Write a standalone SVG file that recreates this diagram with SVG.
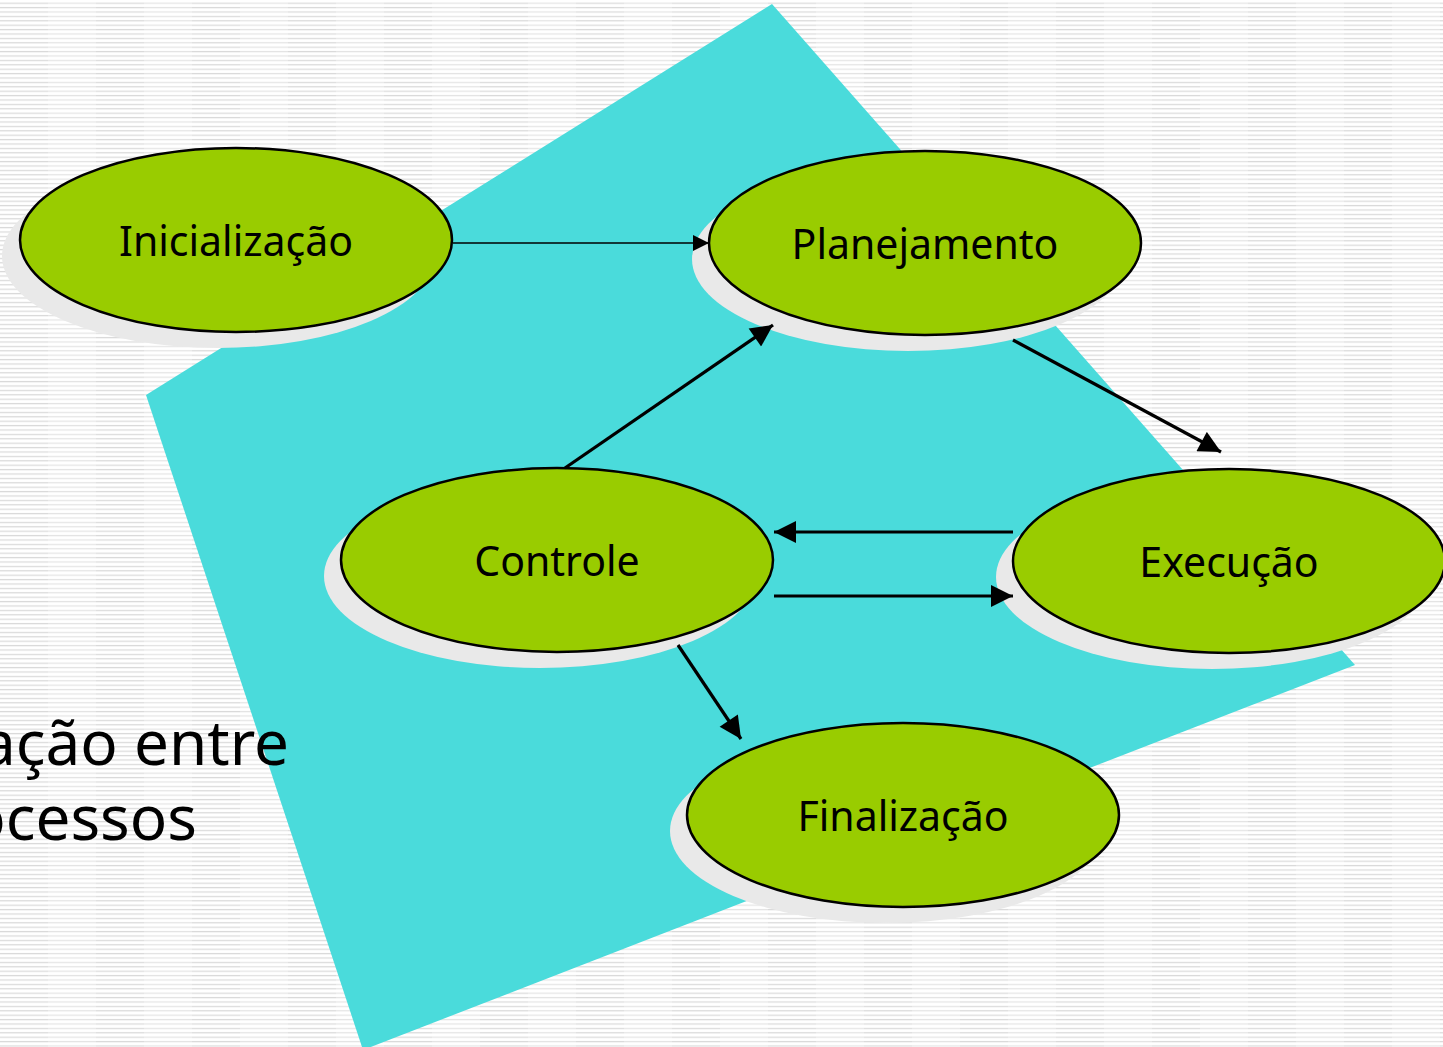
<svg xmlns="http://www.w3.org/2000/svg" width="1443" height="1047" viewBox="0 0 1443 1047">
<defs>
<pattern id="stripes" x="0" y="0" width="96" height="4.4" patternUnits="userSpaceOnUse">
<rect x="0" y="0" width="96" height="4.4" fill="#ffffff"/>
<rect x="0" y="2.6" width="48" height="1.2" fill="#d9d9d9"/>
<rect x="48" y="2.6" width="48" height="1.2" fill="#e4e4e4"/>
</pattern>
<marker id="ah" viewBox="0 0 10 10" refX="10" refY="5" markerWidth="24" markerHeight="22" markerUnits="userSpaceOnUse" orient="auto">
<path d="M0,0 L10,5 L0,10 z" fill="#000"/>
</marker>
<marker id="ahs" viewBox="0 0 10 10" refX="10" refY="5" markerWidth="18" markerHeight="16" markerUnits="userSpaceOnUse" orient="auto">
<path d="M0,0 L10,5 L0,10 z" fill="#000"/>
</marker>
</defs>
<style>
.shadow{fill:#e9e9e9;}
.node{fill:#99cc00;stroke:#000;stroke-width:2.5;}
.label{font-family:"Noto Sans","DejaVu Sans",sans-serif;font-size:41px;fill:#000;text-anchor:middle;}
.big{font-family:"Noto Sans","DejaVu Sans",sans-serif;font-size:62px;fill:#000;text-anchor:end;}
.conn{stroke:#000;stroke-width:3.2;fill:none;marker-end:url(#ah);}
.thin{stroke:#000;stroke-width:1.5;fill:none;marker-end:url(#ahs);}
</style>
<rect x="0" y="0" width="1443" height="1047" fill="url(#stripes)"/>
<polygon points="772,4 1355,665 363,1050 146,395" fill="#4adbdb"/>
<g id="title">
<text class="big" x="289" y="765">ação entre</text>
<text class="big" x="197" y="840">ocessos</text>
</g>
<g id="inicializacao">
<ellipse class="shadow" cx="218" cy="256" rx="216" ry="92"/>
<ellipse class="node" cx="236" cy="240" rx="216" ry="92"/>
<text class="label" x="236" y="256">Inicialização</text>
</g>
<g id="planejamento">
<ellipse class="shadow" cx="908" cy="259" rx="216" ry="92"/>
<ellipse class="node" cx="925" cy="243" rx="216" ry="92"/>
<text class="label" x="925" y="259">Planejamento</text>
</g>
<g id="controle">
<ellipse class="shadow" cx="540" cy="576" rx="216" ry="92"/>
<ellipse class="node" cx="557" cy="560" rx="216" ry="92"/>
<text class="label" x="557" y="576">Controle</text>
</g>
<g id="execucao">
<ellipse class="shadow" cx="1212" cy="577" rx="216" ry="92"/>
<ellipse class="node" cx="1229" cy="561" rx="216" ry="92"/>
<text class="label" x="1229" y="577">Execução</text>
</g>
<g id="finalizacao">
<ellipse class="shadow" cx="886" cy="831" rx="216" ry="92"/>
<ellipse class="node" cx="903" cy="815" rx="216" ry="92"/>
<text class="label" x="903" y="831">Finalização</text>
</g>
<g id="connectors">
<line class="thin" x1="453" y1="243" x2="709" y2="243"/>
<line class="conn" x1="565" y1="468" x2="773" y2="325"/>
<line class="conn" x1="1013" y1="340" x2="1221" y2="452"/>
<line class="conn" x1="1013" y1="532" x2="774" y2="532"/>
<line class="conn" x1="774" y1="596" x2="1013" y2="596"/>
<line class="conn" x1="678" y1="645" x2="741" y2="739"/>
</g>
</svg>
